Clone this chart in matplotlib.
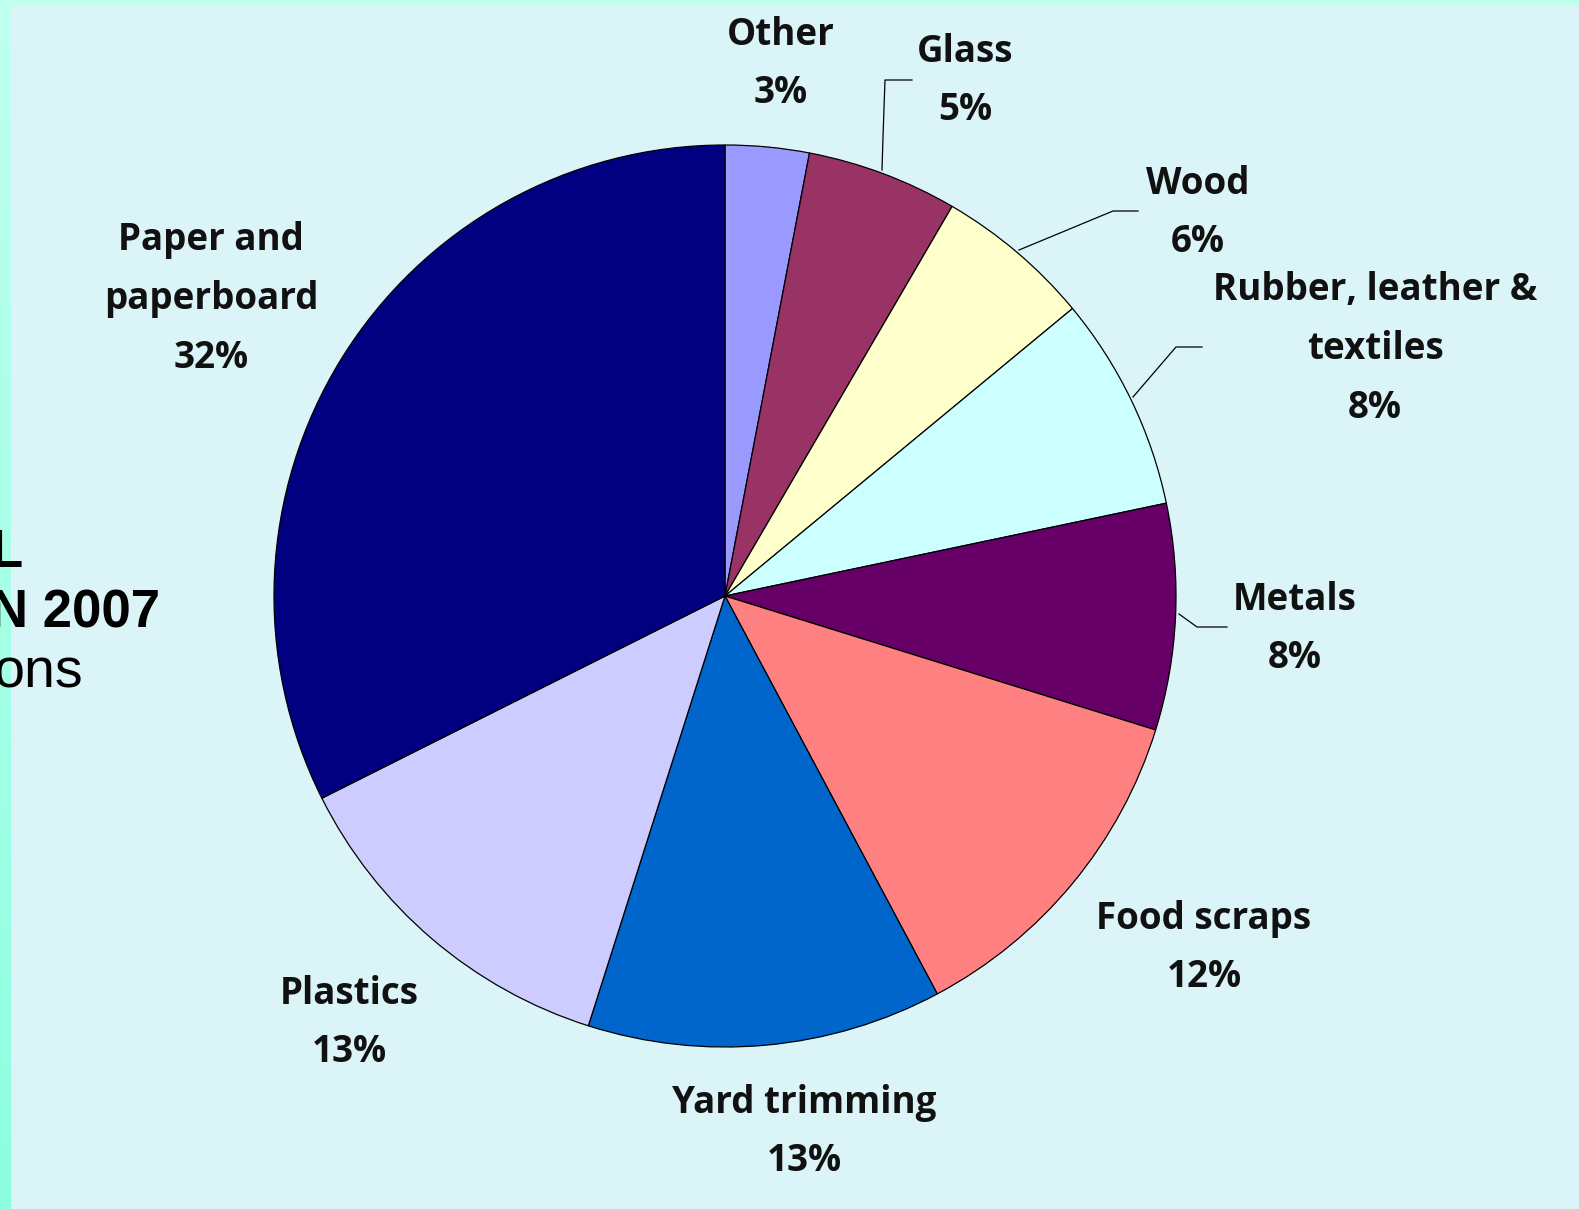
import numpy as np
import matplotlib
matplotlib.use("Agg")
import matplotlib.pyplot as plt

# waste composition, clockwise from 12 o'clock
names = ["Other", "Glass", "Wood", "Rubber, leather &\ntextiles", "Metals",
         "Food scraps", "Yard trimming", "Plastics", "Paper and\npaperboard"]
shares = [3.0, 5.4, 5.6, 7.7, 8.1, 12.4, 12.7, 12.7, 32.4]
colors = ["#9999FF", "#993366", "#FFFFCC", "#CCFFFF", "#660066",
          "#FF8080", "#0066CC", "#CCCCFF", "#000080"]

W, H = 1579, 1209
BG = "#DBF4F8"

fig = plt.figure(figsize=(W / 100, H / 100), dpi=100, facecolor=BG)
ax = fig.add_axes([0, 0, 1, 1])


def Y(y):
    # image row -> data y
    return H - y


cx, cy, R = 725, 596, 451
ax.pie(shares, colors=colors, startangle=90, counterclock=False,
       center=(cx, Y(cy)), radius=R, frame=True,
       wedgeprops=dict(edgecolor="black", linewidth=0.9))

# label positions (centre of the text block, image pixels)
lab_pos = [(781, 64), (965, 81), (1198, 213), (1375, 349), (1295, 629),
           (1204, 948), (804, 1132), (349, 1023), (211, 299)]
font = dict(family=["Open Sans", "DejaVu Sans"], fontsize=26.5,
            fontweight="bold", color="#111111")
for n, s, (x, y) in zip(names, shares, lab_pos):
    ax.text(x, Y(y), n + "\n" + "{:.0f}%".format(s), ha="center", va="center",
            multialignment="center", linespacing=1.72, **font)

# leader lines
leaders = [
    [(882, 170), (883, 137), (885, 80), (912, 80)],
    [(1019, 250), (1113, 211), (1138, 211)],
    [(1133, 397), (1176, 347), (1202, 347)],
    [(1179, 614), (1197, 627), (1227, 627)],
]
for pts in leaders:
    xs = [p[0] for p in pts]
    ys = [Y(p[1]) for p in pts]
    ax.plot(xs, ys, color="black", lw=0.9)

# side bar and top strip
grad = np.linspace(0, 1, 256).reshape(-1, 1)
cmap = matplotlib.colors.LinearSegmentedColormap.from_list(
    "bar", ["#C0FFEE", "#8CFFDE"])
ax.imshow(grad, cmap=cmap, extent=(0, 11, 0, H), origin="upper",
          aspect="auto", zorder=10)
ax.add_patch(plt.Rectangle((0, Y(6)), W, 6, color="#C0FFEE", lw=0, zorder=10))

# title text running off the left edge
ax.text(23, Y(567), "L", ha="right", va="baseline", fontsize=38,
        fontweight="bold", family="Liberation Sans", zorder=12)
ax.text(160, Y(628), "N 2007", ha="right", va="baseline", fontsize=38,
        fontweight="bold", family="Liberation Sans", zorder=12)
ax.text(83, Y(688), "ons", ha="right", va="baseline", fontsize=40,
        family="Liberation Sans", zorder=12)

ax.set_xlim(0, W)
ax.set_ylim(0, H)
ax.set_aspect("equal")
ax.axis("off")

fig.savefig("out.png", dpi=100, facecolor=BG)
